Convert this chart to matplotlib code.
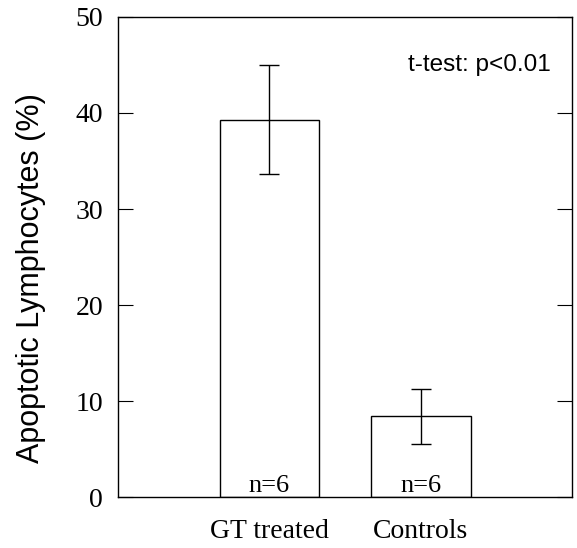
import matplotlib.pyplot as plt

# values
groups = ['GT treated', 'Controls']
means = [39.3, 8.4]
errors = [5.7, 2.9]
n_labels = ['n=6', 'n=6']
y_ticks = [0, 10, 20, 30, 40, 50]

fig = plt.figure(figsize=(5.77, 5.48), dpi=100)
ax = fig.add_axes([0.205, 0.093, 0.786, 0.876])

x = [1, 2]
ax.bar(x, means, width=0.66, color='white', edgecolor='black', linewidth=1.0)
ax.errorbar(x, means, yerr=errors, fmt='none', ecolor='black',
            elinewidth=1.0, capsize=7, capthick=1.0)

for xi, lab in zip(x, n_labels):
    ax.text(xi, 0.5, lab, ha='center', va='baseline',
            family='Liberation Serif', fontsize=19)

ax.text(0.953, 0.9, 't-test: p<0.01', transform=ax.transAxes,
        ha='right', va='center', family='Liberation Sans', fontsize=17.5)

ax.set_xlim(0, 3)
ax.set_ylim(0, 50)
ax.set_xticks(x)
ax.set_xticklabels(groups, family='Liberation Serif', fontsize=20)
ax.tick_params(axis='x', length=0, pad=16)
ax.set_yticks(y_ticks)
ax.set_yticklabels([str(t) for t in y_ticks], family='Liberation Serif', fontsize=20)
ax.tick_params(axis='y', direction='in', length=11, width=0.8,
               right=True, pad=11)

for s in ax.spines.values():
    s.set_linewidth(1.0)

ax.set_ylabel('Apoptotic Lymphocytes (%)', family='Liberation Sans', fontsize=22)
ax.yaxis.set_label_coords(-0.16, 0.456)

fig.savefig('out.png', dpi=100)
